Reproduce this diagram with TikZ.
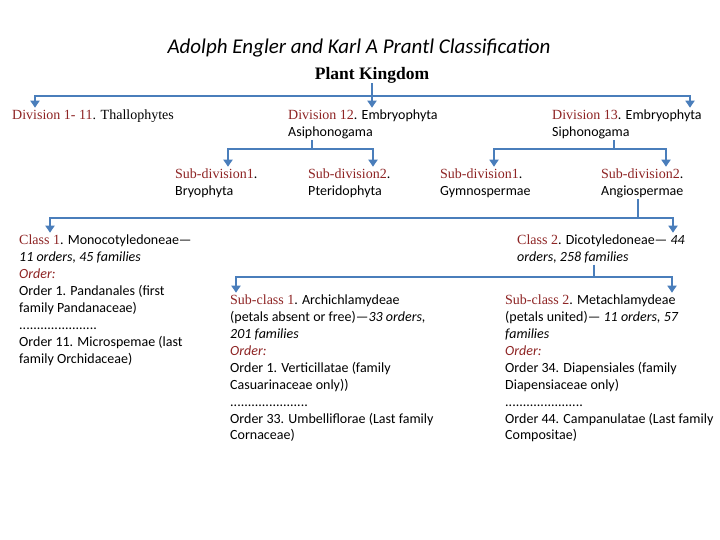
\documentclass[tikz,border=0pt]{standalone}
\usepackage{fontspec}
\setmainfont{Carlito}
\newfontfamily\tms{Liberation Serif}
\usetikzlibrary{arrows.meta}
\definecolor{dred}{HTML}{8E2424}
\definecolor{lblue}{HTML}{4A7EBB}
\newcommand\rd[1]{{\color{dred}\tms #1}}
\newcommand\ro[1]{{\color{dred}\itshape #1}}
\begin{document}
\begin{tikzpicture}[x=1pt,y=-1pt,
  txt/.style={inner sep=0pt, anchor=north west, align=left, font=\fontsize{14}{16.9}\selectfont},
  conn/.style={draw=lblue, line width=2.4pt},
  tip/.style={-{Triangle[width=9pt,length=7pt]}},
  both/.style={{Triangle[width=9pt,length=7pt]}-{Triangle[width=9pt,length=7pt]}}]
\useasboundingbox (0,0) rectangle (720,540);
\fill[white] (0,0) rectangle (720,540);

\node[font=\fontsize{21}{25}\selectfont\itshape] (title) at (359,48) {Adolph Engler and Karl A Prantl Classification};
\node[font=\fontsize{17.5}{21}\selectfont\tms\bfseries, inner sep=0pt] (pk) at (372,75) {Plant Kingdom};

\node[txt] (d1) at (12,107.7) {\strut\rd{Division 1- 11}{\tms. Thallophytes}};
\node[txt] (d12) at (288,107.7) {\strut\rd{Division 12}. Embryophyta\\Asiphonogama};
\node[txt] (d13) at (552,107.7) {\strut\rd{Division 13}. Embryophyta\\Siphonogama};

\node[txt] (s1) at (175,166.7) {\strut\rd{Sub-division1}.\\Bryophyta};
\node[txt] (s2) at (308,166.7) {\strut\rd{Sub-division2}.\\Pteridophyta};
\node[txt] (s3) at (440,166.7) {\strut\rd{Sub-division1}.\\Gymnospermae};
\node[txt] (s4) at (601,166.7) {\strut\rd{Sub-division2}.\\Angiospermae};

\node[txt] (c1) at (19,232.7) {\strut\rd{Class 1}. Monocotyledoneae—\\\textit{11 orders, 45 families}\\\ro{Order:}\\Order 1. Pandanales (first\\family Pandanaceae)\\......................\\Order 11. Microspemae (last\\family Orchidaceae)};
\node[txt] (c2) at (517,232.7) {\strut\rd{Class 2}. Dicotyledoneae— \textit{44}\\\textit{orders, 258 families}};

\node[txt] (sc1) at (230,292.7) {\strut\rd{Sub-class 1}. Archichlamydeae\\(petals absent or free)—\textit{33 orders,}\\\textit{201 families}\\\ro{Order:}\\Order 1. Verticillatae (family\\Casuarinaceae only))\\......................\\Order 33. Umbelliflorae (Last family\\Cornaceae)};
\node[txt] (sc2) at (505,292.7) {\strut\rd{Sub-class 2}. Metachlamydeae\\(petals united)— \textit{11 orders, 57}\\\textit{families}\\\ro{Order:}\\Order 34. Diapensiales (family\\Diapensiaceae only)\\......................\\Order 44. Campanulatae (Last family\\Compositae)};

% level 1
\coordinate (bA) at (35,96);
\coordinate (bB) at (690,96);
\draw[conn, both] (bA |- d1.north) -- (bA) -- (bB) -- (bB |- d13.north);
\draw[conn, tip] (pk.south) -- (pk.south |- d12.north);

% division 12
\coordinate (j1) at (312,149);
\coordinate (j1L) at (228,149);
\coordinate (j1R) at (373,149);
\draw[conn] ([yshift=-1pt]j1 |- d12.south) -- (j1);
\draw[conn, both] (j1L |- s1.north) -- (j1L) -- (j1R) -- (j1R |- s2.north);

% division 13
\coordinate (j2) at (614,149);
\coordinate (j2L) at (494,149);
\coordinate (j2R) at (666,149);
\draw[conn] ([yshift=-1pt]j2 |- d13.south) -- (j2);
\draw[conn, both] (j2L |- s3.north) -- (j2L) -- (j2R) -- (j2R |- s4.north);

% angiospermae
\coordinate (j3) at (638,218);
\coordinate (j3L) at (50,218);
\coordinate (j3R) at (673,218);
\draw[conn] ([yshift=-1pt]j3 |- s4.south) -- (j3);
\draw[conn, both] (j3L |- c1.north) -- (j3L) -- (j3R) -- (j3R |- c2.north);

% class 2
\coordinate (j4) at (594,277);
\coordinate (j4L) at (236,277);
\coordinate (j4R) at (672,277);
\draw[conn] ([yshift=-1pt]j4 |- c2.south) -- (j4);
\draw[conn, both] (j4L |- sc1.north) -- (j4L) -- (j4R) -- (j4R |- sc2.north);
\end{tikzpicture}
\end{document}
